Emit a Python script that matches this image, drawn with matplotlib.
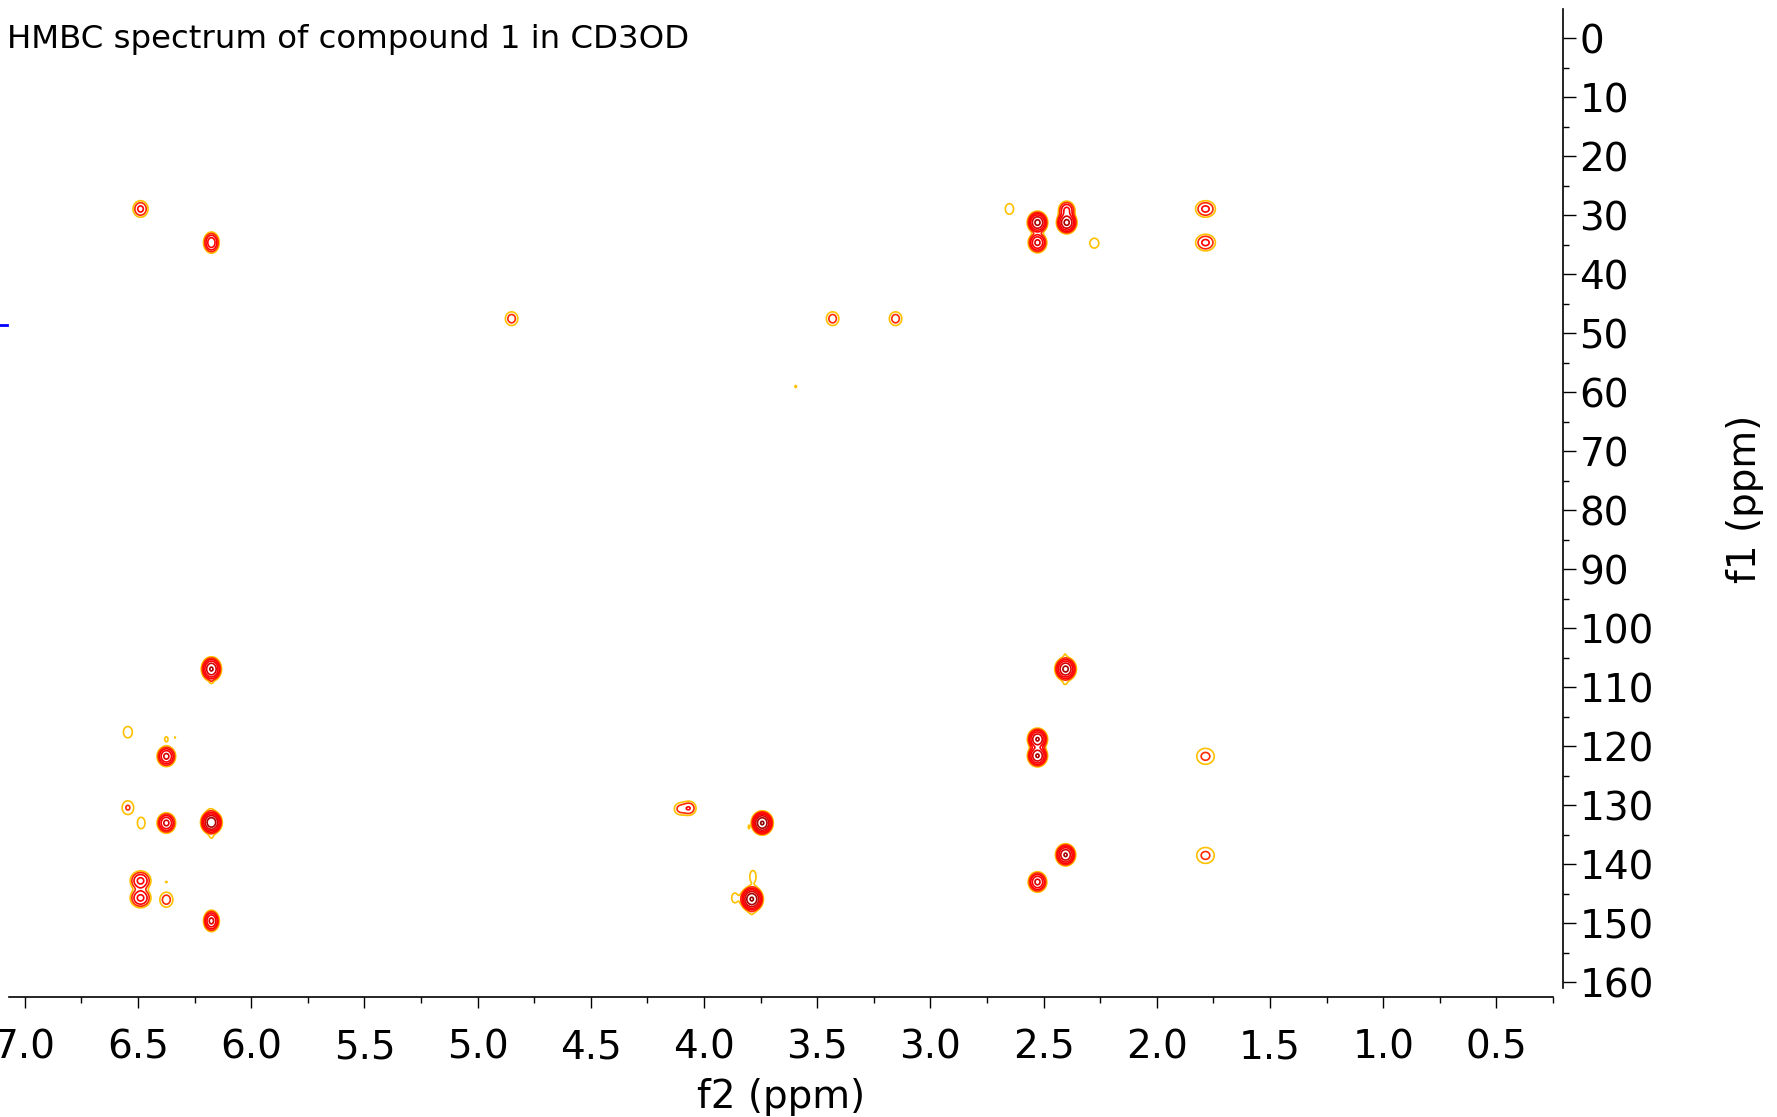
import numpy as np
import matplotlib
matplotlib.use("Agg")
import matplotlib.pyplot as plt
import matplotlib.transforms as mtransforms

# HMBC cross peaks
# f2 = 1H shift (ppm), f1 = 13C shift (ppm), relative height, relative widths in f2 / f1
peak_f2 = [6.489, 6.176, 4.85, 3.432, 3.154, 3.595, 2.651, 2.527, 2.527, 2.398, 2.398,
           2.276, 1.785, 1.785,
           6.176, 6.176, 2.403, 2.405, 2.405, 6.545, 6.375, 6.336, 6.375, 2.527, 2.527,
           1.785, 6.545, 6.486, 6.375, 6.176, 6.176, 6.18, 4.106, 4.066, 3.743, 3.802,
           3.784, 3.864, 3.789, 3.789, 6.489, 6.489, 6.375, 6.375, 6.176,
           2.403, 2.527, 1.785]
peak_f1 = [28.9, 34.6, 47.5, 47.5, 47.5, 59.0, 28.9, 31.2, 34.6, 29.1, 31.2,
           34.7, 28.9, 34.6,
           106.9, 109.1, 106.9, 104.3, 109.4, 117.6, 118.8, 118.5, 121.7, 118.8, 121.6,
           121.7, 130.4, 133.0, 133.0, 132.9, 135.4, 130.8, 130.6, 130.5, 133.0, 133.7,
           142.1, 145.7, 145.9, 148.3, 142.8, 145.7, 143.0, 146.0, 149.6,
           138.4, 143.0, 138.5]
peak_int = [5, 14, 3, 3, 3, 1.1, 1.5, 40, 20, 10, 40,
            1.5, 5, 5,
            35, 1.15, 40, 0.9, 0.95, 1.5, 1.3, 1.05, 20, 35, 35,
            2.5, 2.2, 1.5, 20, 60, 1.0, 0.8, 2.5, 4, 70, 1.1,
            1.4, 1.4, 70, 0.9, 10, 10, 1.1, 3, 20,
            35, 20, 2.5]
peak_wx = [1.1, 0.9, 1.1, 1.1, 1.1, 0.5, 1.2, 1.0, 1.0, 1.0, 1.0,
           1.3, 1.45, 1.45,
           1.0, 0.4, 1.05, 0.6, 0.9, 1.3, 0.6, 0.35, 1.0, 1.0, 1.0,
           1.7, 1.2, 1.1, 1.0, 1.0, 0.8, 0.9, 1.1, 1.1, 1.0, 0.3,
           1.0, 1.0, 1.05, 0.8, 1.27, 1.27, 0.5, 1.15, 0.85,
           1.0, 1.0, 1.7]
peak_wy = [1.1, 1.1, 1.1, 1.1, 1.1, 0.6, 1.4, 1.0, 1.0, 1.0, 1.0,
           1.3, 1.1, 1.1,
           1.1, 0.4, 1.05, 0.8, 0.6, 1.5, 0.8, 0.6, 1.0, 1.0, 1.0,
           1.4, 1.3, 1.5, 1.0, 1.0, 0.7, 0.7, 1.0, 1.0, 1.0, 0.7,
           1.8, 1.4, 1.05, 0.7, 1.1, 1.1, 0.35, 1.2, 1.05,
           1.0, 1.0, 1.4]

solvent_f1 = 48.6

x_ticks = np.arange(0.5, 7.01, 0.5)
y_ticks = np.arange(0, 161, 10)

plt.rcParams['font.family'] = ['DejaVu Sans']

fig = plt.figure(figsize=(17.77, 11.17), dpi=100)
ax = fig.add_axes([9 / 1777, 1 - 997 / 1117, (1553 - 9) / 1777, (997 - 9) / 1117])

# 2D surface built from the peak list
f2 = np.arange(0.31, 7.071, 0.003)
f1 = np.arange(-5.0, 162.5, 0.12)
Z = np.zeros((len(f1), len(f2)))
for x0, y0, a, wx, wy in zip(peak_f2, peak_f1, peak_int, peak_wx, peak_wy):
    gx = np.exp(-0.5 * ((f2 - x0) / (0.0168 * wx)) ** 2)
    gy = np.exp(-0.5 * ((f1 - y0) / (0.71 * wy)) ** 2)
    Z += a * np.outer(gy, gx)

levels = 2.0 ** np.arange(8)
level_colors = ["#FFC000", "#FF2A00", "#FF0000", "#FF0000", "#D80000", "#A80000", "#8B0000", "#800000"]
ax.contour(f2, f1, Z, levels=levels, colors=level_colors, linewidths=1.2)

# solvent trace stub at the left edge
trans = mtransforms.blended_transform_factory(ax.transAxes, ax.transData)
ax.plot([-9 / 1544, -2 / 1544], [solvent_f1, solvent_f1], color="blue",
        lw=2, transform=trans, clip_on=False)

ax.set_xlim(7.07, 0.31)
ax.set_ylim(162.5, -5.0)

for s in ["top", "left"]:
    ax.spines[s].set_visible(False)
ax.spines["bottom"].set_linewidth(1.2)
ax.spines["right"].set_linewidth(1.2)
ax.spines["right"].set_position(("outward", 7))
ax.spines["right"].set_bounds(-5.0, 160.9)

ax.set_xticks(x_ticks)
ax.set_xticklabels([f"{v:.1f}" for v in x_ticks])
ax.set_xticks(np.arange(0.25, 7.01, 0.25), minor=True)
ax.set_yticks(y_ticks)
ax.set_yticklabels([str(int(v)) for v in y_ticks])
ax.set_yticks(np.arange(0, 161, 5), minor=True)

ax.yaxis.tick_right()
ax.tick_params(axis="x", which="major", length=8, width=1.0, labelsize=28, pad=15)
ax.tick_params(axis="x", which="minor", length=4.5, width=1.0)
ax.tick_params(axis="y", which="major", length=9, width=1.0, labelsize=28, pad=3)
ax.tick_params(axis="y", which="minor", length=4.5, width=1.0)

ax.set_xlabel("f2 (ppm)", fontsize=28)
ax.xaxis.set_label_coords(0.5, -0.082)
fig.text(1745 / 1777, 1 - 499 / 1117, "f1 (ppm)", rotation=90, fontsize=28,
         ha="center", va="center")

fig.text(7 / 1777, 1 - 48 / 1117, "HMBC spectrum of compound 1 in CD3OD",
         fontsize=23.3, ha="left", va="baseline")

fig.savefig("out.png", dpi=100)
